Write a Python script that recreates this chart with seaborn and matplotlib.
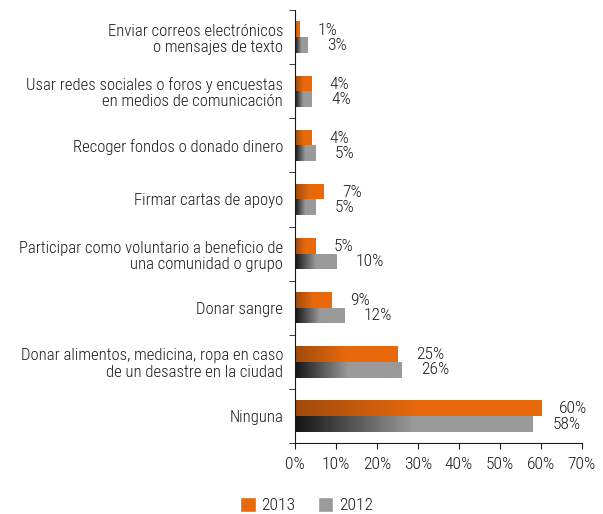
import numpy as np
import pandas as pd
import matplotlib
matplotlib.use('Agg')
import matplotlib.pyplot as plt
import seaborn as sns
from matplotlib.colors import LinearSegmentedColormap
from matplotlib.patches import Patch

categories = [
    'Enviar correos electrónicos\no mensajes de texto',
    'Usar redes sociales o foros y encuestas\nen medios de comunicación',
    'Recoger fondos o donado dinero',
    'Firmar cartas de apoyo',
    'Participar como voluntario a beneficio de\nuna comunidad o grupo',
    'Donar sangre',
    'Donar alimentos, medicina, ropa en caso\nde un desastre en la ciudad',
    'Ninguna',
]
values_2013 = [1, 4, 4, 7, 5, 9, 25, 60]
values_2012 = [3, 4, 5, 5, 10, 12, 26, 58]
years = ['2013', '2012']
xticks = [0, 10, 20, 30, 40, 50, 60, 70]

ORANGE = '#e8690b'
ORANGE_DARK = '#a04a0c'
GRAY = '#9a9a9a'
GRAY_DARK = '#141414'
TEXT = '#1a1a1a'
FS_CAT = 12
FS_VAL = 12.6

sns.set_style('ticks')
plt.rcParams['font.family'] = ['Roboto Condensed', 'DejaVu Sans']
plt.rcParams['font.weight'] = 'light'

df = pd.DataFrame({
    'categoria': categories * 2,
    'valor': values_2013 + values_2012,
    'año': ['2013'] * len(categories) + ['2012'] * len(categories),
})

fig = plt.figure(figsize=(6.03, 5.14), dpi=100)
ax = fig.add_axes([0.489, 0.138, 0.476, 0.8425])

sns.barplot(data=df, x='valor', y='categoria', hue='año', hue_order=years,
            palette=[ORANGE, GRAY], orient='h', width=0.58, ax=ax,
            legend=False, saturation=1)

cmaps = {
    ORANGE: LinearSegmentedColormap.from_list('o', [ORANGE_DARK, ORANGE]),
    GRAY: LinearSegmentedColormap.from_list('g', [GRAY_DARK, GRAY]),
}

# gradient fill on each bar (dark on the left, fading over the first half)
n = len(categories)
bars = list(ax.patches)
for i, p in enumerate(bars):
    col = ORANGE if i < n else GRAY
    x0, y0, w, h = p.get_x(), p.get_y(), p.get_width(), p.get_height()
    if w <= 0:
        continue
    grad = np.clip(np.linspace(0, 2, 256), 0, 1).reshape(1, -1)
    im = ax.imshow(grad, cmap=cmaps[col], aspect='auto',
                   extent=[x0, x0 + w, y0 + h, y0], zorder=p.get_zorder() + 0.1)
    im.set_clip_path(p)

# value labels
for i in range(n):
    ax.text(values_2013[i] + 4.5, i - 0.13, f'{values_2013[i]}%', ha='left',
            va='center', fontsize=FS_VAL, color=TEXT)
    ax.text(values_2012[i] + 4.8, i + 0.15, f'{values_2012[i]}%', ha='left',
            va='center', fontsize=FS_VAL, color=TEXT)

ax.set_xlim(0, 70)
ax.set_ylim(n - 0.5, -0.5)
ax.set_xticks(xticks)
ax.set_xticklabels([f'{t}%' for t in xticks], fontsize=FS_VAL, color=TEXT)
ax.set_yticks(range(n))
ax.set_yticklabels(categories, fontsize=FS_CAT, color=TEXT, linespacing=1.1)
ax.set_yticks(np.arange(n + 1) - 0.5, minor=True)
ax.tick_params(axis='y', which='major', length=0, pad=8.5)
ax.tick_params(axis='y', which='minor', length=4, color=TEXT)
ax.tick_params(axis='x', length=4, color=TEXT, pad=6)
ax.set_xlabel('')
ax.set_ylabel('')
sns.despine(ax=ax, top=True, right=True)
for s in ['left', 'bottom']:
    ax.spines[s].set_color(TEXT)

handles = [Patch(facecolor=ORANGE, label='2013'), Patch(facecolor=GRAY, label='2012')]
fig.legend(handles=handles, loc='center', bbox_to_anchor=(0.508, 0.0175),
           ncol=2, frameon=False, fontsize=FS_VAL, handlelength=0.9,
           handleheight=1.0, handletextpad=0.3, columnspacing=1.3,
           borderpad=0.1)
for t in fig.legends[0].get_texts():
    t.set_color(TEXT)

fig.savefig('out.png', dpi=100)
